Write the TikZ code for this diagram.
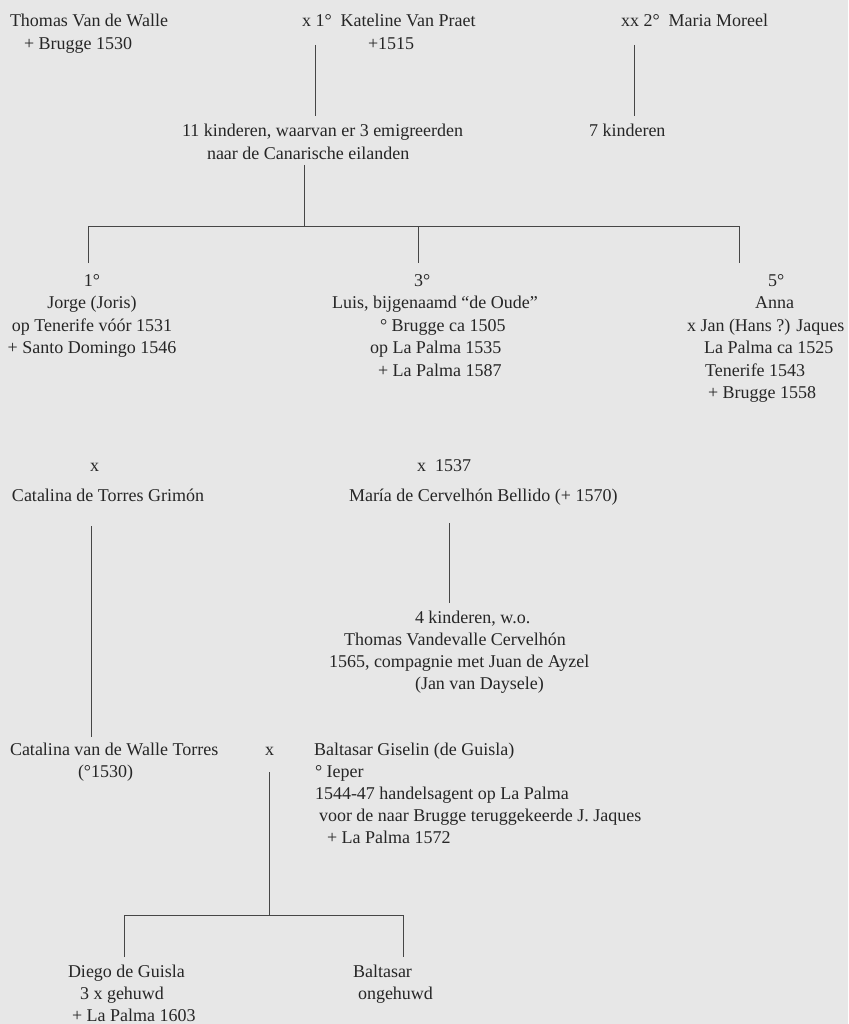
\documentclass[tikz,border=0pt]{standalone}
\usepackage{fontspec}
\setmainfont{Liberation Serif}
\definecolor{bgc}{RGB}{231,231,231}
\definecolor{txt}{RGB}{38,38,38}
\definecolor{ln}{RGB}{70,70,70}
\begin{document}
\begin{tikzpicture}[x=1pt,y=-1pt,
  blk/.style={anchor=north west, inner sep=0pt, outer sep=0pt, align=left, text=txt,
              font=\fontsize{18}{22.5}\selectfont, yshift=9.75pt},
  blkb/.style={blk, font=\fontsize{18}{22}\selectfont},
  ctr/.style={blk, anchor=north, align=center},
  conn/.style={draw=ln, line width=1pt}]
\fill[bgc] (0,0) rectangle (848,1024);
\useasboundingbox (0,0) rectangle (848,1024);

% generation 1
\node[blk] (thomas) at (10,21) {\strut Thomas Van de Walle\\\hspace*{14pt}+ Brugge 1530};
\node[blk] (kateline) at (302,21) {\strut x 1°\enspace Kateline Van Praet\\\hspace*{66pt}+1515};
\node[blk] (moreel) at (621,21) {\strut xx 2°\enspace Maria Moreel};
\node[blk] (kids11) at (182,131) {\strut 11 kinderen, waarvan er 3 emigreerden\\\hspace*{25pt}naar de Canarische eilanden};
\node[blk] (kids7) at (589,131) {\strut 7 kinderen};

\coordinate (a1) at (315,45);  \coordinate (a2) at (315,116);
\coordinate (b1) at (634,45);  \coordinate (b2) at (634,116);
\coordinate (c1) at (304,165); \coordinate (c2) at (304,227);
\coordinate (hl) at (88,227);  \coordinate (hm) at (418,227); \coordinate (hr) at (739,227);
\coordinate (d1) at (88,263);  \coordinate (d2) at (418,263); \coordinate (d3) at (739,263);
\draw[conn] (a1) -- (a2);
\draw[conn] (b1) -- (b2);
\draw[conn] (c1) -- (c2);
\draw[conn] (d1) -- (hl) -- (hr) -- (d3);
\draw[conn] (hm) -- (d2);

% generation 2
\node[ctr] (jorge) at (92,280) {\strut 1°\\Jorge (Joris)\\op Tenerife vóór 1531\\+ Santo Domingo 1546};
\node[blk] (luis) at (332,280) {\hspace*{82pt}\strut 3°\\Luis, bijgenaamd “de Oude”\\\hspace*{48pt}° Brugge ca 1505\\\hspace*{38pt}op La Palma 1535\\\hspace*{46pt}+ La Palma 1587};
\node[blk] (anna) at (687,280) {\hspace*{81pt}\strut 5°\\\hspace*{68pt}Anna\\x Jan (Hans ?) Jaques\\\hspace*{17pt}La Palma ca 1525\\\hspace*{18pt}Tenerife 1543\\\hspace*{21pt}+ Brugge 1558};

\node[blk] (xj) at (90,465) {\strut x};
\node[blk] (xl) at (417,465) {\strut x\enspace 1537};
\node[blk] (catTG) at (12,495) {\strut Catalina de Torres Grimón};
\node[blk] (maria) at (349,495) {\strut María de Cervelhón Bellido (+ 1570)};

\coordinate (e1) at (91,526);  \coordinate (e2) at (91,737);
\coordinate (f1) at (449,523); \coordinate (f2) at (449,603);
\draw[conn] (e1) -- (e2);
\draw[conn] (f1) -- (f2);

\node[blkb] (kids4) at (329,618) {\hspace*{86pt}\strut 4 kinderen, w.o.\\\hspace*{15pt}Thomas Vandevalle Cervelhón\\1565, compagnie met Juan de Ayzel\\\hspace*{86pt}(Jan van Daysele)};

% generation 3
\node[blkb] (catW) at (10,750) {\strut Catalina van de Walle Torres\\\hspace*{68pt}(°1530)};
\node[blkb] (x2) at (265,750) {\strut x};
\node[blkb] (balt) at (314,750) {\strut Baltasar Giselin (de Guisla)\\\hspace*{1pt}° Ieper\\\hspace*{1pt}1544-47 handelsagent op La Palma\\\hspace*{5pt}voor de naar Brugge teruggekeerde J. Jaques\\\hspace*{13pt}+ La Palma 1572};

\coordinate (g1) at (269,772); \coordinate (g2) at (269,915);
\coordinate (gl) at (124,915); \coordinate (gr) at (403,915);
\coordinate (h1) at (124,957); \coordinate (h2) at (403,957);
\draw[conn] (g1) -- (g2);
\draw[conn] (h1) -- (gl) -- (gr) -- (h2);

\node[blkb] (diego) at (68,972) {\strut Diego de Guisla\\\hspace*{12pt}3 x gehuwd\\\hspace*{4pt}+ La Palma 1603};
\node[blkb] (balt2) at (353,972) {\strut Baltasar\\\hspace*{5pt}ongehuwd};
\end{tikzpicture}
\end{document}
